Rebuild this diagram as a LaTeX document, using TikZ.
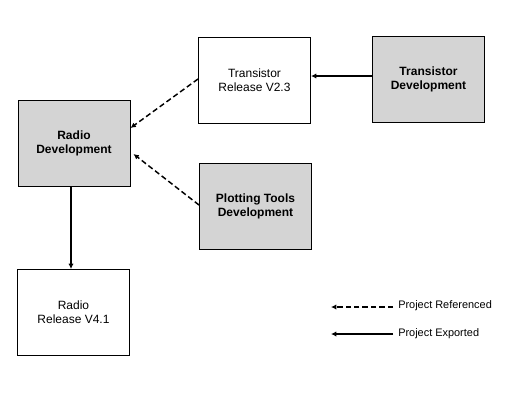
\documentclass[tikz,border=0pt]{standalone}
\usepackage{fontspec}
\setmainfont{Liberation Sans}
\usetikzlibrary{arrows.meta}
\definecolor{boxgray}{HTML}{D4D4D4}
\begin{document}
\begin{tikzpicture}[x=0.75pt,y=-0.75pt,
  box/.style={draw=black,line width=0.75pt,minimum width=84pt,minimum height=64.5pt,inner sep=0pt,align=center,font=\fontsize{9}{10.8}\selectfont},
  devbox/.style={box,fill=boxgray,font=\fontsize{9}{10.5}\selectfont\bfseries},
  relbox/.style={box,fill=white},
  refarrow/.style={line width=1.1pt,dash pattern=on 4pt off 2.3pt,-{Latex[length=4pt,width=4pt]}},
  exparrow/.style={line width=1.2pt,-{Latex[length=4pt,width=4pt]}},
  legtext/.style={anchor=west,inner sep=0pt,font=\fontsize{8.2}{9.5}\selectfont}]
\useasboundingbox (0,0) rectangle (507,401);
\node[relbox] (tr) at (254.5,80) {Transistor\\Release V2.3};
\node[devbox] (td) at (428.5,79) {Transistor\\Development};
\node[devbox] (rd) at (74,143) {Radio\\Development};
\node[devbox] (pt) at (255.5,206) {Plotting Tools\\Development};
\node[relbox] (rr) at (73.5,312.5) {Radio\\Release V4.1};
\draw[exparrow] (td.west |- 0,76) -- (tr.east |- 0,76);
\draw[refarrow] (tr.west |- 0,79) -- (rd.east |- 0,128);
\draw[refarrow] (pt.west |- 0,205) -- ([xshift=2.25pt]rd.east |- 0,154);
\draw[exparrow] (rd.south -| 71,0) -- (rr.north -| 71,0);
\coordinate (l1a) at (393,307);
\coordinate (l1b) at (331,307);
\coordinate (l2a) at (393,334);
\coordinate (l2b) at (331,334);
\draw[refarrow] (l1a) -- (l1b);
\draw[exparrow] (l2a) -- (l2b);
\node[legtext] (lr) at (398,306) {Project Referenced};
\node[legtext] (le) at (398,334) {Project Exported};
\end{tikzpicture}
\end{document}
